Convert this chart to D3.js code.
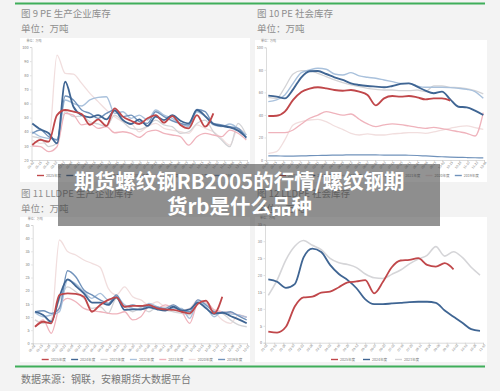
<!DOCTYPE html>
<html><head><meta charset="utf-8">
<script src="https://cdn.jsdelivr.net/npm/d3@7"></script>
<style>html,body{margin:0;padding:0;background:#f3f3f3;}svg{display:block;font-family:"Noto Sans CJK SC","Noto Sans",sans-serif;}</style>
</head><body><svg id="c" width="500" height="391"></svg>
<script>
// ---------- shared ----------
const years = ["2025年度","2024年度","2023年度","2022年度","2021年度","2020年度","2019年度"];
const yearColors = ["#c0474a","#3f6593","#d3d3d6","#a9c1dc","#efb3bc","#f1dede","#7092bb"];
const tickLabels = ["01-02","01-15","01-28","02-10","02-23","03-08","03-21","04-03","04-16","04-29","05-12","05-25","06-07","06-20","07-03","07-16","07-29","08-11","08-24","09-06","09-19","10-02","10-15","10-28","11-10","11-23","12-06","12-19","12-31"];

// ---------- 图9 PE 生产企业库存 ----------
const pe1Ticks = [20,30,40,50,60,70,80,90,100];
const pe1_2025 = [30.6,34.2,33.0,51.8,55.4,54.2,52.5,44.8,48.8,44.1,56.6,50.7,47.8,45.5,49.5,51.8,46.4,51.1,44.8,42.4,51.8,43.6,53.0];
const pe1_2024 = [45.9,41.7,38.9,31.8,75.4,57.7,51.8,50.2,51.8,48.8,54.9,48.3,45.5,48.8,44.1,50.7,48.3,51.8,47.8,45.9,55.4,51.1,45.5,44.1,43.1,40.8,36.0];
const pe1_2023 = [36.5,35.3,29.4,31.8,54.2,50.7,51.1,47.1,45.5,43.6,51.8,47.1,42.4,41.7,44.1,48.3,44.8,43.6,38.9,40.0,45.9,48.3,40.0,34.2,29.4,45.9,37.7];
const pe1_2022 = [40.0,36.5,35.3,34.6,62.5,60.1,58.2,62.5,64.3,64.8,53.0,54.2,49.5,51.8,48.3,55.4,51.8,49.5,45.9,43.6,54.2,50.7,44.8,43.6,45.5,42.4,37.7];
const pe1_2021 = [29.9,29.4,25.9,29.4,53.0,51.8,44.8,45.9,42.4,43.6,39.3,40.0,38.9,36.0,40.0,41.2,38.9,37.7,36.5,30.6,36.5,38.9,37.7,36.5,41.2,38.9,34.2];
const pe1_2020 = [34.2,31.8,33.0,94.3,81.3,80.8,74.2,67.2,61.3,55.4,50.7,47.1,45.9,40.0,43.6,45.9,42.4,41.2,40.0,38.9,44.8,42.4,40.0,35.3,30.6,42.4,37.7];
const pe1_2019 = [38.9,41.2,36.5,34.2,65.3,62.5,55.4,53.0,49.5,53.0,55.4,50.7,51.8,47.1,45.9,54.2,50.7,47.8,45.9,44.8,55.8,54.2,45.9,44.8,43.6,42.4,35.3];

// ---------- 图10 PE 社会库存 ----------
const pe2Ticks = [0,20,40,60,80,100];
const pe2_2025 = [39.1,39.3,42.9,53.3,60.4,63.3,64.5,63.6,62.1,61.5,62.1,60.7,57.7,48.5,54.7,56.8,56.2,56.8,55.6,53.8,54.7,54.7,52.7];
const pe2_2024 = [57.1,56.2,54.7,62.7,73.4,78.7,79.0,76.3,73.4,71.0,68.0,66.6,65.7,65.1,64.5,65.7,67.5,68.0,65.1,61.5,59.2,60.7,53.8,47.3,46.7,43.8,39.9];
const pe2_2023 = [55.6,54.7,64.5,76.3,79.3,79.3,76.9,74.0,71.0,68.6,66.6,65.1,63.6,62.7,62.1,62.1,61.5,61.5,62.1,60.7,65.7,65.7,64.5,64.2,63.3,61.5,58.6];
const pe2_2022 = [51.8,53.3,57.7,68.0,77.5,79.9,81.4,80.5,76.3,75.4,77.5,74.6,73.4,72.5,71.0,69.5,68.0,68.0,65.7,64.5,64.5,64.5,64.2,63.6,62.7,60.7,54.7];
const pe2_2021 = [24.3,24.3,24.3,26.6,32.0,37.0,39.9,42.9,41.4,39.9,40.8,36.1,32.0,29.6,31.1,32.0,31.4,30.2,29.0,28.1,29.0,27.8,26.6,25.1,23.7,21.3,42.0];
const pe2_2020 = [5.9,7.4,17.8,31.1,34.0,35.5,36.1,34.0,30.2,27.2,23.7,22.2,23.1,22.2,22.2,23.1,23.7,24.3,24.3,23.7,24.9,26.6,28.1,29.6,30.2,28.7,27.2];
const pe2_2019 = [3.6,3.6,3.5,3.5,3.6,3.8,4.0,4.1,4.3,4.4,4.6,4.6,4.5,4.5,4.4,4.4,4.3,4.2,4.0,3.6,3.2,2.9,2.6,2.4,2.2,2.0,1.8];

// ---------- 图11 LLDPE 生产企业库存 ----------
const ll1Ticks = [0,5,10,15,20,25,30,35,40,45];
const ll1_2025 = [6.3,8.2,7.6,18.4,19.0,18.8,17.7,12.0,14.6,16.5,17.5,13.9,14.2,14.2,14.6,13.3,12.9,12.7,12.0,11.4,15.0,16.2,11.4,17.7];
const ll1_2024 = [12.0,10.8,8.2,17.7,24.3,21.8,19.0,15.5,15.5,14.6,17.5,12.7,12.9,12.9,13.7,12.9,12.4,13.9,12.4,12.9,15.5,13.3,11.2,11.7,10.4,9.1,7.6];
const ll1_2023 = [8.9,7.6,8.9,16.5,21.5,19.6,17.1,13.3,13.9,11.4,17.1,13.9,12.0,13.3,12.0,13.9,12.7,12.0,11.4,10.8,15.2,15.2,12.0,11.4,8.9,7.0,6.3];
const ll1_2022 = [11.7,10.1,10.8,12.0,24.1,22.6,19.6,17.1,19.0,16.5,17.7,14.6,13.3,12.7,15.2,13.9,12.7,13.3,13.3,9.5,15.8,13.9,10.1,12.0,11.2,10.8,9.9];
const ll1_2021 = [6.3,8.9,3.8,13.9,17.1,15.8,13.3,12.4,12.0,11.4,11.2,12.0,8.9,10.1,13.9,13.3,14.6,13.3,12.0,7.6,15.2,15.8,12.7,12.0,11.7,10.8,9.9];
const ll1_2020 = [8.9,7.6,8.9,39.3,34.9,33.6,31.7,30.4,28.9,20.9,18.4,21.5,17.7,16.5,14.6,15.8,13.9,14.6,12.7,13.3,16.5,13.3,12.0,8.9,7.6,10.8,10.1];
const ll1_2019 = [12.0,12.4,11.4,13.3,27.6,25.3,20.3,18.4,16.5,15.2,18.4,13.9,14.6,13.9,14.2,13.7,13.3,14.6,12.7,12.0,16.5,14.6,12.0,11.4,12.0,10.4,8.9];

// ---------- 图12 LLDPE 社会库存 ----------
const ll2Ticks = [0,5,10,15,20,25,30,35];
const ll2_2025 = [3.3,3.0,4.7,10.7,13.4,13.6,14.8,15.1,16.4,17.8,18.1,18.5,14.6,18.0,22.3,24.3,24.5,25.0,23.0,22.5,23.5,21.7];
const ll2_2024 = [18.7,18.0,16.2,17.3,25.2,27.8,26.8,23.0,20.3,18.5,16.1,12.8,11.4,11.4,11.6,11.8,12.0,12.1,12.1,11.8,9.5,7.7,5.9,4.0,3.5];
const ll2_2023 = [14.0,18.5,24.5,28.5,30.2,28.8,27.5,24.9,23.6,23.1,22.2,20.3,19.2,19.0,20.2,21.5,23.3,24.7,25.8,28.4,25.6,26.9,25.2,22.3,20.0];

const svg = d3.select("#c");
svg.append("rect").attr("width",500).attr("height",391).attr("fill","#f3f3f3");

const FONT = '"Noto Sans CJK SC","Noto Sans",sans-serif';

function drawPanel(p){
  const g = svg.append("g");
  g.append("rect").attr("x",p.box[0]).attr("y",p.box[1]).attr("width",p.box[2]).attr("height",p.box[3]).attr("fill","#fff");
  const y = d3.scaleLinear().domain(p.yDomain).range([p.yBottom,p.yTop]);
  const x = d3.scaleLinear().domain([0,p.n-1]).range([p.x0,p.x1]);
  const tx = d3.scaleLinear().domain([0,p.ticks.length-1]).range([p.axisLeft,p.axisRight]);
  const ya = g.append("g").attr("transform",`translate(${p.axisLeft},0)`)
    .call(d3.axisLeft(y).tickValues(p.yTicks).tickSize(1.5).tickPadding(1.5));
  const xa = g.append("g").attr("transform",`translate(0,${p.yBottom})`)
    .call(d3.axisBottom(tx).tickValues(d3.range(p.ticks.length)).tickFormat(i=>p.ticks[i]).tickSize(1.5).tickPadding(1));
  [ya,xa].forEach(a=>{
    a.select(".domain").attr("stroke","#c4c4c4").attr("stroke-width",0.6);
    a.selectAll(".tick line").attr("stroke","#c4c4c4").attr("stroke-width",0.5);
    a.selectAll("text").attr("font-size",3.8).attr("fill","#777").attr("font-family",FONT);
  });
  xa.selectAll("text").attr("font-size",3.2).attr("text-anchor","end").attr("transform","rotate(-50)").attr("dx","-0.2em").attr("dy","0.3em");
  g.append("text").attr("x",p.axisLeft-5).attr("y",p.yTop-5).attr("font-size",3).attr("fill","#888")
    .attr("font-family",FONT).text("单位：万吨");
  const line = d3.line().defined(d=>d!=null).x((d,i)=>x(i)).y(d=>y(d)).curve(d3.curveMonotoneX);
  p.series.forEach(s=>{
    g.append("path").datum(s.values).attr("d",line).attr("fill","none")
      .attr("stroke",s.color).attr("stroke-width",s.width).attr("stroke-linejoin","round");
  });
  p.legend.forEach((l,i)=>{
    const lx = p.legendX + i*p.legendStep;
    g.append("line").attr("x1",lx).attr("x2",lx+7).attr("y1",p.legendY).attr("y2",p.legendY)
      .attr("stroke",l.color).attr("stroke-width",1.4);
    g.append("text").attr("x",lx+9).attr("y",p.legendY+1.3).attr("font-size",3.6).attr("fill","#777")
      .attr("font-family",FONT).text(l.name);
  });
}

function mk(vals, order, widthsMap){
  return order.map(k=>({values:vals[k], color:yearColors[k], width:widthsMap[k]}));
}
const W7 = [1.8,1.8,1.3,1.4,1.3,1.3,1.4];
const order7 = [5,2,4,3,6,1,0];
const legend7 = years.map((n,i)=>({name:n,color:yearColors[i]}));

drawPanel({
  box:[20,38,230,144], yDomain:[20,100], yTicks:pe1Ticks, yBottom:160, yTop:47,
  n:27, x0:32.3, x1:246.3, axisLeft:31.5, axisRight:247, ticks:tickLabels,
  series: mk([pe1_2025,pe1_2024,pe1_2023,pe1_2022,pe1_2021,pe1_2020,pe1_2019], order7, W7),
  legend: legend7, legendX:37, legendY:175.5, legendStep:29.3
});
drawPanel({
  box:[255,40,232,142], yDomain:[0,100], yTicks:pe2Ticks, yBottom:160, yTop:47.3,
  n:27, x0:268.3, x1:483.3, axisLeft:266, axisRight:484, ticks:tickLabels.slice(0,27),
  series: mk([pe2_2025,pe2_2024,pe2_2023,pe2_2022,pe2_2021,pe2_2020,pe2_2019],
             [5,4,2,3,6,1,0], [1.9,1.9,1.3,1.4,1.3,1.3,1.2]),
  legend: legend7, legendX:279, legendY:175.5, legendStep:29.3
});
drawPanel({
  box:[20,217,230,145], yDomain:[0,45], yTicks:ll1Ticks, yBottom:343.3, yTop:225,
  n:27, x0:35, x1:246.7, axisLeft:32.7, axisRight:247, ticks:tickLabels,
  series: mk([ll1_2025,ll1_2024,ll1_2023,ll1_2022,ll1_2021,ll1_2020,ll1_2019], order7, W7),
  legend: legend7, legendX:41.7, legendY:359.5, legendStep:29.4
});
drawPanel({
  box:[255,217,232,145], yDomain:[0,35], yTicks:ll2Ticks, yBottom:342.7, yTop:224.3,
  n:25, x0:268.3, x1:480, axisLeft:265, axisRight:483, ticks:tickLabels.slice(0,25),
  series: [
    {values:ll2_2023, color:"#d5d5d8", width:1.6},
    {values:ll2_2024, color:"#3f6593", width:1.8},
    {values:ll2_2025, color:"#c0474a", width:1.8}
  ],
  legend: [{name:years[0],color:"#c0474a"},{name:years[1],color:"#3f6593"},{name:years[2],color:"#d5d5d8"}],
  legendX:331, legendY:359.5, legendStep:32
});

// titles
const titles = [
  {t:"图 9 PE 生产企业库存", x:21, y:17},
  {t:"单位：万吨", x:21, y:31.5},
  {t:"图 10 PE 社会库存", x:257, y:17},
  {t:"单位：万吨", x:257, y:31.5},
  {t:"图 11 LLDPE 生产企业库存", x:21, y:197},
  {t:"单位：万吨", x:21, y:211.5},
  {t:"图 12 LLDPE 社会库存", x:257, y:197},
  {t:"单位：万吨", x:257, y:211.5}
];
titles.forEach(d=>svg.append("text").attr("x",d.x).attr("y",d.y).attr("font-size",9.5)
  .attr("fill","#8e8e8e").attr("font-family",FONT).text(d.t));

// green rules
svg.append("line").attr("x1",15).attr("x2",485).attr("y1",3.5).attr("y2",3.5).attr("stroke","#3fae5a").attr("stroke-width",2);
svg.append("line").attr("x1",15).attr("x2",485).attr("y1",366.5).attr("y2",366.5).attr("stroke","#3fae5a").attr("stroke-width",2);

svg.append("text").attr("x",21).attr("y",382.5).attr("font-size",10).attr("fill","#777")
  .attr("font-family",FONT).text("数据来源：钢联，安粮期货大数据平台");

// banner overlay
svg.append("rect").attr("x",58).attr("y",164).attr("width",382).attr("height",62)
  .attr("fill","#3a3a3a").attr("fill-opacity",0.55);
svg.append("text").attr("x",239.5).attr("y",188.5).attr("text-anchor","middle").attr("font-size",20.5)
  .attr("font-weight","bold").attr("fill","#fff").attr("font-family",FONT).text("期货螺纹钢RB2005的行情/螺纹钢期");
svg.append("text").attr("x",239.5).attr("y",214).attr("text-anchor","middle").attr("font-size",20.5)
  .attr("font-weight","bold").attr("fill","#fff").attr("font-family",FONT).text("货rb是什么品种");
</script></body></html>
